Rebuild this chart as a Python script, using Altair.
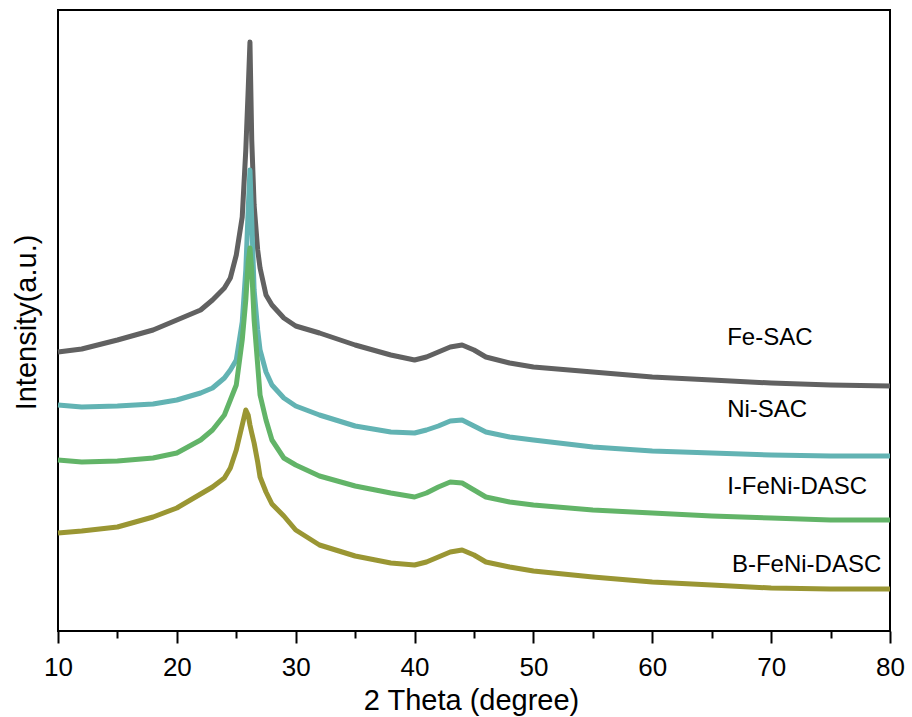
import altair as alt
import pandas as pd

# 2-theta positions (degree) at which the traces were read
theta = [10, 12, 15, 18, 20, 22, 23, 24, 24.5, 25, 25.5, 25.8, 26.0, 26.15, 26.3,
         26.5, 26.8, 27, 27.5, 28, 29, 30, 32, 35, 38, 40, 41, 42, 43, 44, 45,
         46, 48, 50, 55, 60, 65, 70, 75, 80]

# intensities (a.u., offset traces as drawn)
fe_sac = [279, 282, 291, 301, 311, 321, 331, 343, 353, 376, 414, 481, 541, 589, 491,
          426, 381, 363, 336, 326, 313, 305, 298, 286, 276, 271, 274, 279, 284, 286, 281,
          274, 268, 264, 259, 254, 251, 248, 246, 245]
ni_sac = [226, 224, 225, 227, 231, 238, 243, 253, 261, 271, 309, 361, 421, 461, 411,
          341, 301, 281, 259, 246, 233, 225, 216, 205, 199, 198, 201, 205, 210, 211, 205,
          199, 194, 191, 184, 180, 178, 176, 175, 175]
i_feni = [171, 169, 170, 173, 178, 191, 201, 216, 231, 246, 291, 331, 369, 383, 361,
          311, 266, 236, 211, 191, 173, 166, 155, 145, 138, 134, 138, 144, 149, 148, 141,
          134, 129, 126, 121, 118, 115, 113, 111, 111]
b_feni = [98, 100, 104, 114, 123, 137, 144, 153, 163, 181, 206, 221, 216, 206, 198,
          188, 169, 154, 139, 127, 115, 101, 86, 75, 68, 66, 69, 74, 79, 81, 76,
          69, 64, 60, 54, 49, 46, 43, 42, 42]

samples = ["Fe-SAC", "Ni-SAC", "I-FeNi-DASC", "B-FeNi-DASC"]
colors = ["#616161", "#62b3b3", "#62b468", "#9a9633"]

# curve labels (data coordinates)
label_text = ["Fe-SAC", "Ni-SAC", "I-FeNi-DASC", "B-FeNi-DASC"]
label_theta = [66.3, 66.3, 66.3, 66.7]
label_y = [293, 221, 144, 66]

major_ticks = [10, 20, 30, 40, 50, 60, 70, 80]
minor_ticks = [15, 25, 35, 45, 55, 65, 75]

rows = []
for name, vals in zip(samples, [fe_sac, ni_sac, i_feni, b_feni]):
    for i, (t, v) in enumerate(zip(theta, vals)):
        rows.append({"theta": t, "intensity": v, "sample": name, "idx": i})
df = pd.DataFrame(rows)

labels_df = pd.DataFrame({"theta": label_theta, "intensity": label_y, "label": label_text})

FONT = "Liberation Sans"
x_scale = alt.Scale(domain=[10, 80], nice=False, zero=False)
y_scale = alt.Scale(domain=[0, 621], nice=False, zero=False)

lines = alt.Chart(df).mark_line(strokeWidth=5, strokeJoin="round").encode(
    x=alt.X("theta:Q", scale=x_scale,
            axis=alt.Axis(orient="bottom", values=major_ticks, title="2 Theta (degree)", format="d",
                          tickSize=12, tickWidth=2, tickColor="black", domain=False,
                          labelFont=FONT, labelFontSize=26, labelColor="black",
                          labelPadding=11, labelFlush=False,
                          titleFont=FONT, titleFontSize=29, titleFontWeight="normal",
                          titleColor="black", titleX=413, titleY=78,
                          titleBaseline="alphabetic", titleAlign="center")),
    y=alt.Y("intensity:Q", scale=y_scale,
            axis=alt.Axis(title="Intensity(a.u.)", labels=False, ticks=False, domain=False,
                          titleFont=FONT, titleFontSize=29, titleFontWeight="normal",
                          titleColor="black", titleAngle=270, titleX=-23, titleY=312,
                          titleBaseline="alphabetic", titleAlign="center")),
    color=alt.Color("sample:N", scale=alt.Scale(domain=samples, range=colors), legend=None),
    order=alt.Order("idx:Q"),
)

texts = alt.Chart(labels_df).mark_text(
    align="left", baseline="middle", fontSize=24, font=FONT, color="black"
).encode(
    x=alt.X("theta:Q", scale=x_scale,
            axis=alt.Axis(orient="bottom", values=minor_ticks, labels=False, title=None,
                          tickSize=7, tickWidth=2, tickColor="black", domain=False)),
    y=alt.Y("intensity:Q", scale=y_scale, axis=None),
    text="label:N",
)

chart = alt.layer(lines, texts).resolve_axis(x="independent", y="independent").properties(
    width=832, height=621,
    autosize=alt.AutoSizeParams(type="none"),
    padding={"left": 58, "top": 10, "right": 22, "bottom": 86},
    background="white",
).configure_view(stroke="black", strokeWidth=2).configure_axis(grid=False)

chart.save("out.html", embed_options={"renderer": "svg", "actions": False})
